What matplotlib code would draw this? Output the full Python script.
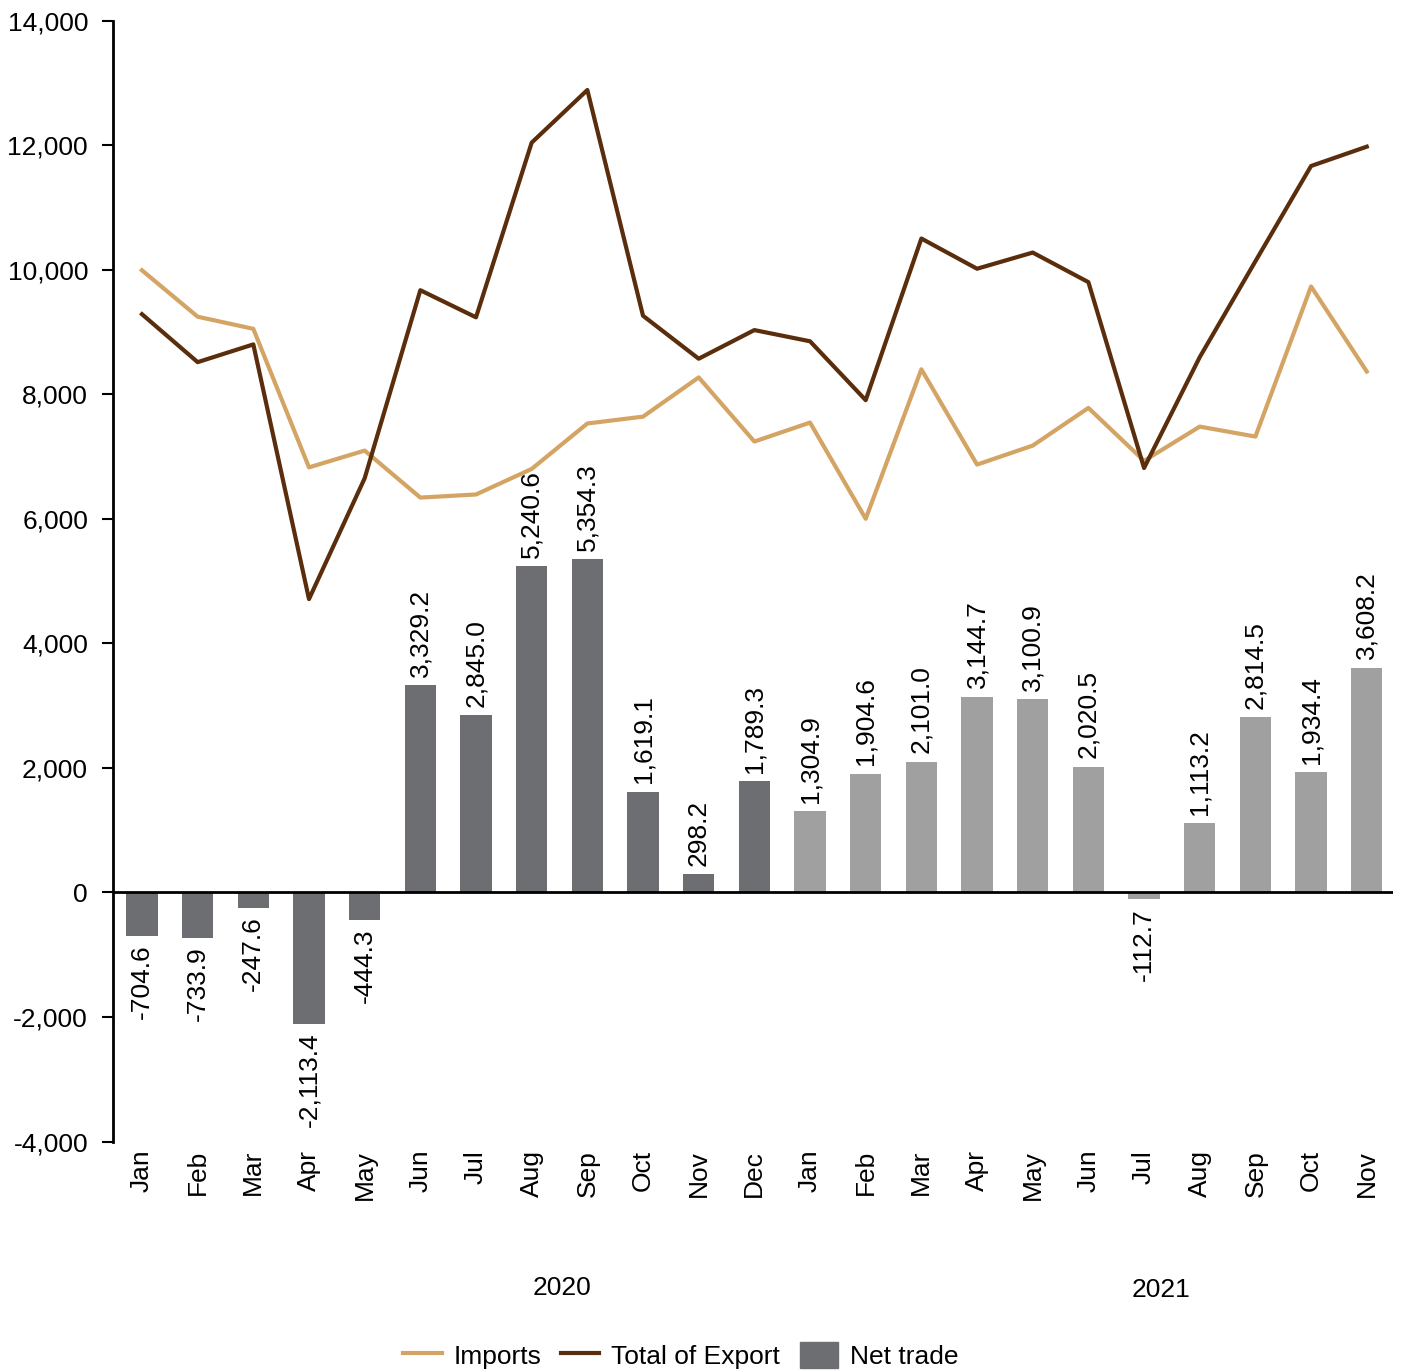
import numpy as np
import matplotlib.pyplot as plt

plt.rcParams['font.family'] = ['Liberation Sans', 'DejaVu Sans']

months = ['Jan', 'Feb', 'Mar', 'Apr', 'May', 'Jun', 'Jul', 'Aug', 'Sep', 'Oct', 'Nov', 'Dec',
          'Jan', 'Feb', 'Mar', 'Apr', 'May', 'Jun', 'Jul', 'Aug', 'Sep', 'Oct', 'Nov']
years = ['2020', '2021']
net_trade = [-704.6, -733.9, -247.6, -2113.4, -444.3, 3329.2, 2845.0, 5240.6, 5354.3, 1619.1, 298.2, 1789.3,
             1304.9, 1904.6, 2101.0, 3144.7, 3100.9, 2020.5, -112.7, 1113.2, 2814.5, 1934.4, 3608.2]
imports = [9990, 9245, 9050, 6825, 7095, 6340, 6390, 6800, 7530, 7640, 8270, 7240,
           7545, 6000, 8400, 6870, 7175, 7780, 6930, 7480, 7320, 9730, 8365]
exports = [9285, 8515, 8800, 4710, 6650, 9670, 9235, 12040, 12885, 9260, 8570, 9030,
           8850, 7905, 10500, 10015, 10275, 9800, 6815, 8595, 10135, 11665, 11975]

c_imp = '#d4a464'
c_exp = '#5a2d0c'
c_2020 = '#6d6e71'
c_2021 = '#a0a0a0'
fs = 19

x = np.arange(len(months))
bar_colors = [c_2020] * 12 + [c_2021] * 11

fig = plt.figure(figsize=(14.04, 13.72), dpi=100)
ax = fig.add_axes([0.0805, 0.168, 0.912, 0.817])

ax.bar(x, net_trade, width=0.56, color=bar_colors, zorder=2, label='Net trade')
ln_imp, = ax.plot(x, imports, color=c_imp, lw=3, zorder=3, label='Imports')
ln_exp, = ax.plot(x, exports, color=c_exp, lw=3, zorder=3, label='Total of Export')

# data labels
for xi, v in zip(x, net_trade):
    txt = f'{v:,.1f}'
    if v >= 0:
        ax.annotate(txt, (xi, v), xytext=(0, 6), textcoords='offset points',
                    rotation=90, ha='center', va='bottom', fontsize=fs, zorder=4)
    else:
        ax.annotate(txt, (xi, v), xytext=(0, -6), textcoords='offset points',
                    rotation=90, ha='center', va='top', fontsize=fs, zorder=4)

ax.set_ylim(-4000, 14000)
ax.set_xlim(-0.52, 22.48)
ax.set_yticks(np.arange(-4000, 14001, 2000))
ax.yaxis.set_major_formatter(plt.FuncFormatter(lambda v, p: f'{v:,.0f}'))
ax.set_xticks(x)
ax.set_xticklabels(months, rotation=90)
ax.tick_params(axis='y', labelsize=fs, length=8, width=1.5, direction='out', pad=10)
ax.tick_params(axis='x', labelsize=fs, length=0, pad=6)

for s in ['top', 'right', 'bottom']:
    ax.spines[s].set_visible(False)
ax.spines['left'].set_linewidth(2)
ax.axhline(0, color='black', lw=2, zorder=5)

ax.text(7.55, -6350, years[0], ha='center', va='center', fontsize=fs)
ax.text(18.3, -6380, years[1], ha='center', va='center', fontsize=fs)

patch = plt.Rectangle((0, 0), 1, 1, color=c_2020)
fig.legend([ln_imp, ln_exp, patch], ['Imports', 'Total of Export', 'Net trade'], loc='center',
           bbox_to_anchor=(0.485, 0.012), ncol=3, frameon=False, fontsize=fs,
           handlelength=1.45, handleheight=1.1, columnspacing=0.75, handletextpad=0.45)

fig.savefig('out.png', dpi=100)
